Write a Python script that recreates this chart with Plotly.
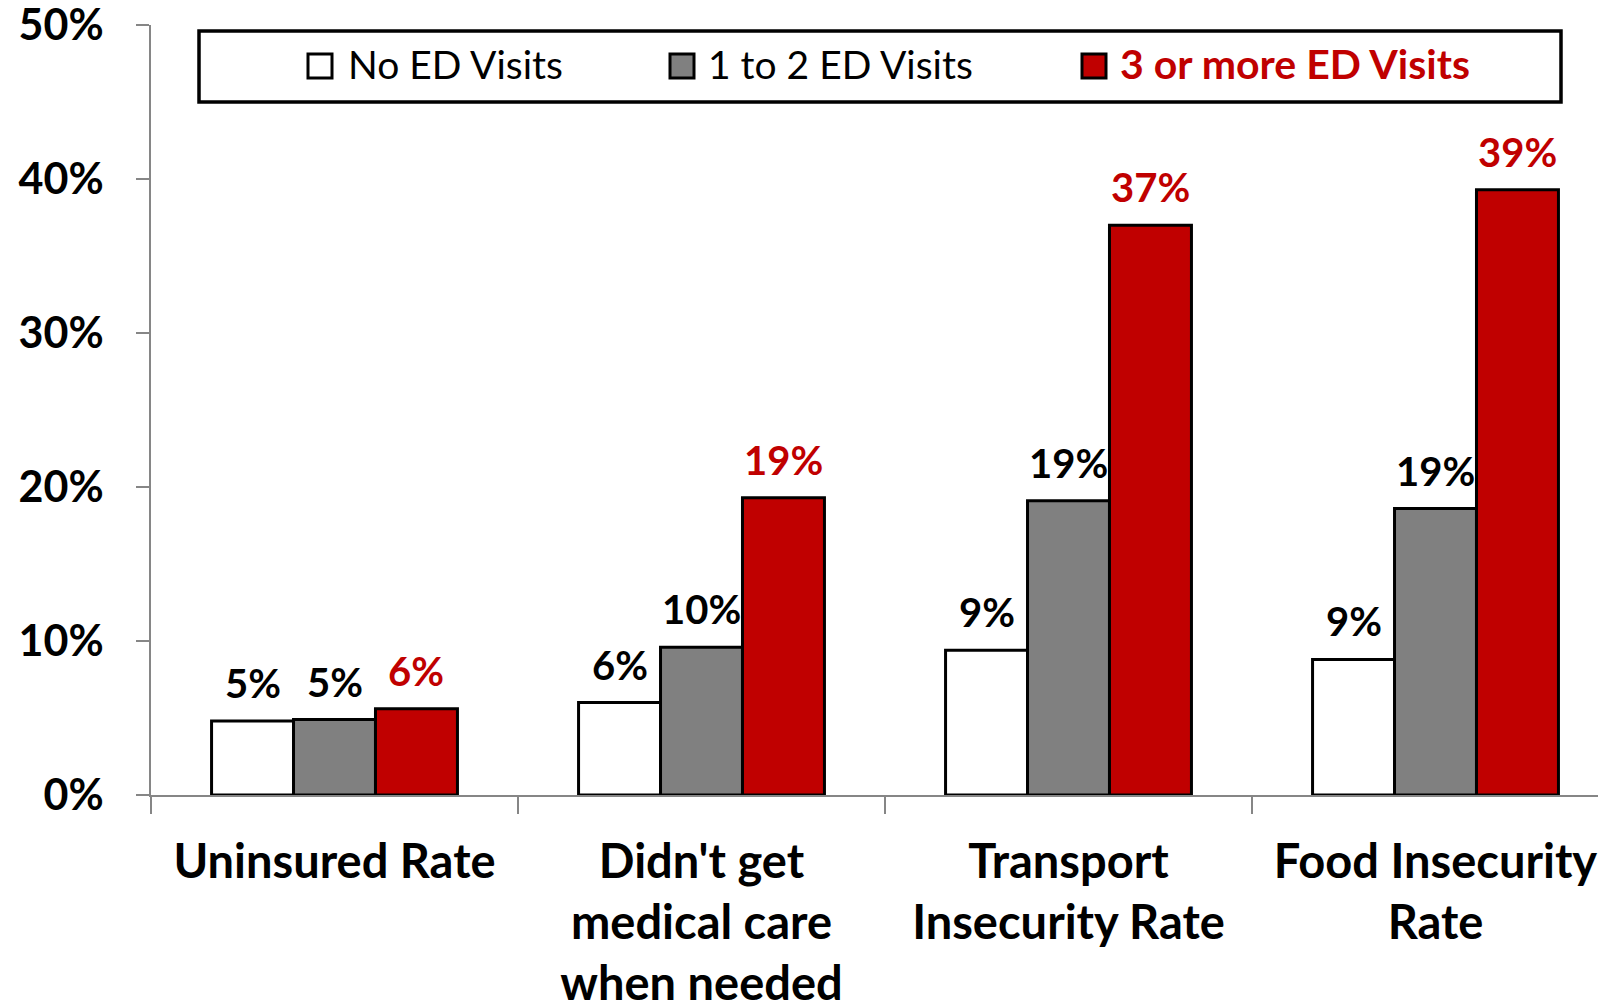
import plotly.graph_objects as go

# Survey indicators (x categories) and share of respondents by ED-visit group
categories = [
    "Uninsured Rate",
    "Didn't get<br>medical care<br>when needed",
    "Transport<br>Insecurity Rate",
    "Food Insecurity<br>Rate",
]
series_names = ["No ED Visits", "1 to 2 ED Visits", "3 or more ED Visits"]
no_ed_visits = [0.048, 0.060, 0.094, 0.088]
one_to_two_visits = [0.049, 0.096, 0.191, 0.186]
three_plus_visits = [0.056, 0.193, 0.370, 0.393]
y_tick_values = [0, 0.1, 0.2, 0.3, 0.4, 0.5]

series_values = [no_ed_visits, one_to_two_visits, three_plus_visits]
fill_colors = ["#FFFFFF", "#808080", "#C00000"]
text_colors = ["#000000", "#000000", "#C00000"]

W, H = 1598, 1000
M_L, M_R, M_T, M_B = 151, 0, 25, 205
PLOT_W = W - M_L - M_R
PLOT_H = H - M_T - M_B
BAR_GAP = 0.33
CAT_PX = 367  # width of one category slot in pixels
FONT = "Lato"
AXIS_GREY = "#868686"


def px_x(x):
    return (x - M_L) / PLOT_W


def px_y(y):
    return 1 - (y - M_T) / PLOT_H


fig = go.Figure()
for name, vals, fill in zip(series_names, series_values, fill_colors):
    fig.add_trace(go.Bar(
        name=name,
        x=categories,
        y=vals,
        marker=dict(color=fill, line=dict(color="#000000", width=3)),
        showlegend=False,
        hovertemplate="%{y:.0%}<extra>" + name + "</extra>",
    ))

# value labels above each bar, placed at the bar's own grouped offset
bar_w = (1 - BAR_GAP) / len(series_names)
annotations = []
for k, (vals, col) in enumerate(zip(series_values, text_colors)):
    for i, v in enumerate(vals):
        annotations.append(dict(
            x=i + (k - 1) * bar_w, y=v, xref="x", yref="y",
            text=f"{round(v * 100)}%", showarrow=False,
            yanchor="bottom", yshift=12,
            font=dict(family=FONT, size=40, color=col, weight="bold"),
        ))

# boxed legend across the top
shapes = [dict(
    type="rect", xref="paper", yref="paper",
    x0=px_x(199), x1=px_x(1561), y0=px_y(102), y1=px_y(31),
    line=dict(color="#000000", width=3.5), fillcolor="#FFFFFF", layer="above",
)]
legend_sq_cx = [320, 682, 1094]
legend_txt_x = [346, 706, 1118]
legend_cy = 66
legend_txt_cy = 64
for name, fill, tcol, sx, tx in zip(series_names, fill_colors, text_colors,
                                    legend_sq_cx, legend_txt_x):
    bold = tcol != "#000000"
    shapes.append(dict(
        type="rect", xref="paper", yref="paper",
        x0=px_x(sx - 12), x1=px_x(sx + 12),
        y0=px_y(legend_cy + 12), y1=px_y(legend_cy - 12),
        line=dict(color="#000000", width=3), fillcolor=fill, layer="above",
    ))
    annotations.append(dict(
        x=px_x(tx), y=px_y(legend_txt_cy), xref="paper", yref="paper",
        text=name, showarrow=False, xanchor="left", yanchor="middle",
        font=dict(family=FONT, size=41 if bold else 39, color=tcol,
                  weight="bold" if bold else "normal"),
    ))

fig.update_layout(
    width=W, height=H,
    margin=dict(l=M_L, r=M_R, t=M_T, b=M_B, pad=0),
    paper_bgcolor="#FFFFFF", plot_bgcolor="#FFFFFF",
    barmode="group", bargap=BAR_GAP, bargroupgap=0,
    font=dict(family=FONT, color="#000000"),
    showlegend=False,
    annotations=annotations,
    shapes=shapes,
    xaxis=dict(
        type="category",
        range=[-0.5, PLOT_W / CAT_PX - 0.5],
        automargin=False,
        showline=True, linecolor=AXIS_GREY, linewidth=1.5,
        ticks="outside", tickson="boundaries", ticklen=17,
        tickcolor=AXIS_GREY, tickwidth=1.5,
        tickfont=dict(family=FONT, size=47, color="#000000", weight="bold"),
        ticklabelstandoff=25,
        ticklabeloverflow="allow",
        showgrid=False, zeroline=False,
    ),
    yaxis=dict(
        range=[0, 0.5], tickvals=y_tick_values, tickformat=".0%",
        automargin=False,
        showline=True, linecolor=AXIS_GREY, linewidth=1.5,
        ticks="outside", ticklen=13, tickcolor=AXIS_GREY, tickwidth=1.5,
        tickfont=dict(family=FONT, size=43, color="#000000", weight="bold"),
        ticklabelstandoff=24,
        ticklabeloverflow="allow",
        showgrid=False, zeroline=False,
    ),
)

fig.write_html("out.html")
